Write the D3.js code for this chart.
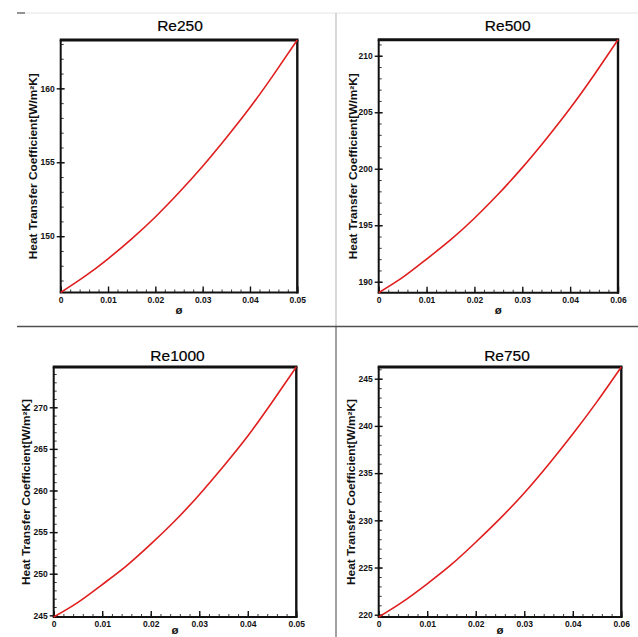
<!DOCTYPE html>
<html>
<head>
<meta charset="utf-8">
<script src="https://cdn.jsdelivr.net/npm/d3@7"></script>
<style>
  html, body { margin: 0; padding: 0; background: #fff; }
  svg { display: block; font-family: "Liberation Sans", Arial, sans-serif; }
</style>
</head>
<body>
<svg id="chart" width="638" height="637"></svg>
<script>
// Nanofluid volume fraction (x) and heat transfer coefficient for each Reynolds number
const phi = [0, 0.005, 0.01, 0.015, 0.02, 0.025, 0.03, 0.035, 0.04, 0.045, 0.05];
const h250  = [146.19, 147.26, 148.47, 149.82, 151.3, 152.95, 154.73, 156.66, 158.7, 160.93, 163.27];
const h500  = [189.03, 190.38, 192.0, 193.7, 195.62, 197.76, 200.1, 202.64, 205.35, 208.3, 211.42];
const h1000 = [244.8, 246.56, 248.7, 250.95, 253.55, 256.36, 259.5, 262.92, 266.55, 270.6, 274.84];
const h750  = [219.76, 221.39, 223.28, 225.33, 227.68, 230.18, 232.9, 235.92, 239.14, 242.57, 246.24];

const titles = ["Re250", "Re500", "Re1000", "Re750"];

// Tick values and labels
const xTicks = [0, 0.01, 0.02, 0.03, 0.04, 0.05];
const xLabels250  = ["0", "0.01", "0.02", "0.03", "0.04", "0.05"];
const xLabels500  = ["0", "0.01", "0.02", "0.03", "0.04", "0.06"];
const xLabels1000 = ["0", "0.01", "0.02", "0.03", "0.04", "0.05"];
const xLabels750  = ["0", "0.01", "0.02", "0.03", "0.04", "0.06"];
const yTicks250  = [150, 155, 160];
const yTicks500  = [190, 195, 200, 205, 210];
const yTicks1000 = [245, 250, 255, 260, 265, 270];
const yTicks750  = [220, 225, 230, 235, 240, 245];

const yLabel = "Heat Transfer Coefficient[W/m\u00B2K]";
const xLabel = "\u00F8";

// Panel geometry
const panels = [
  { title: titles[0], values: h250,  yTicks: yTicks250,  xLabels: xLabels250,
    left: 60.7, top: 40, right: 297.3, bottom: 292.5, titleX: 180, titleY: 31, ylabX: 33, xlabDy: 21 },
  { title: titles[1], values: h500,  yTicks: yTicks500,  xLabels: xLabels500,
    left: 378.7, top: 39.7, right: 618, bottom: 292.7, titleX: 507.7, titleY: 31, ylabX: 353, xlabDy: 21 },
  { title: titles[2], values: h1000, yTicks: yTicks1000, xLabels: xLabels1000,
    left: 53.7, top: 367, right: 296.3, bottom: 617, titleX: 177.5, titleY: 361, ylabX: 26, xlabDy: 17 },
  { title: titles[3], values: h750,  yTicks: yTicks750,  xLabels: xLabels750,
    left: 378.7, top: 367, right: 621.3, bottom: 617, titleX: 507, titleY: 361, ylabX: 351, xlabDy: 17 }
];

const svg = d3.select("#chart");

// Page separators
svg.append("line").attr("x1", 17).attr("x2", 638).attr("y1", 13).attr("y2", 13)
  .attr("stroke", "#e6e6e6").attr("stroke-width", 1.2);
svg.append("line").attr("x1", 17).attr("x2", 25).attr("y1", 13).attr("y2", 13)
  .attr("stroke", "#555").attr("stroke-width", 1.2);
svg.append("line").attr("x1", 336).attr("x2", 336).attr("y1", 13).attr("y2", 326)
  .attr("stroke", "#c4c4c4").attr("stroke-width", 1.3);
svg.append("line").attr("x1", 336).attr("x2", 336).attr("y1", 326).attr("y2", 637)
  .attr("stroke", "#8a8a8a").attr("stroke-width", 1.6);
svg.append("line").attr("x1", 17).attr("x2", 638).attr("y1", 326.5).attr("y2", 326.5)
  .attr("stroke", "#505050").attr("stroke-width", 1.4);

function minorRange(lo, hi, step) {
  const out = [];
  const n = Math.round((hi - lo) / step);
  for (let i = 0; i <= n; i++) out.push(+(lo + i * step).toFixed(6));
  return out;
}

panels.forEach(p => {
  const x = d3.scaleLinear().domain([0, 0.05]).range([p.left, p.right]);
  const y = d3.scaleLinear().domain(d3.extent(p.values)).range([p.bottom, p.top]);
  const g = svg.append("g");

  // Minor ticks (inside)
  const yMin = Math.ceil(y.domain()[0]), yMax = Math.floor(y.domain()[1]);
  g.append("g").attr("transform", `translate(${p.left},0)`)
    .call(d3.axisLeft(y).tickValues(minorRange(yMin, yMax, 1)).tickSize(-3).tickFormat(""))
    .call(s => s.select(".domain").remove())
    .call(s => s.selectAll("line").attr("stroke", "#222").attr("stroke-width", 0.9));
  g.append("g").attr("transform", `translate(0,${p.bottom})`)
    .call(d3.axisBottom(x).tickValues(minorRange(0, 0.05, 0.002)).tickSize(-3).tickFormat(""))
    .call(s => s.select(".domain").remove())
    .call(s => s.selectAll("line").attr("stroke", "#222").attr("stroke-width", 0.9));

  // Major y ticks: outside with labels, plus inside extension
  g.append("g").attr("transform", `translate(${p.left},0)`)
    .call(d3.axisLeft(y).tickValues(p.yTicks).tickSize(4).tickPadding(2))
    .call(s => s.select(".domain").remove())
    .call(s => s.selectAll("line").attr("stroke", "#111").attr("stroke-width", 1.4))
    .call(s => s.selectAll("text").attr("font-size", 8.5).attr("font-weight", "bold").attr("fill", "#111"));
  g.append("g").attr("transform", `translate(${p.left},0)`)
    .call(d3.axisLeft(y).tickValues(p.yTicks).tickSize(-4).tickFormat(""))
    .call(s => s.select(".domain").remove())
    .call(s => s.selectAll("line").attr("stroke", "#111").attr("stroke-width", 1.4));

  // Major x ticks (inside) with labels
  g.append("g").attr("transform", `translate(0,${p.bottom})`)
    .call(d3.axisBottom(x).tickValues(xTicks).tickSize(-6).tickPadding(4)
      .tickFormat((d, i) => p.xLabels[i]))
    .call(s => s.select(".domain").remove())
    .call(s => s.selectAll("line").attr("stroke", "#111").attr("stroke-width", 1.4))
    .call(s => s.selectAll("text").attr("font-size", 8.5).attr("font-weight", "bold").attr("fill", "#111"));

  // Frame
  const frame = [
    [p.left, p.bottom, p.left, p.top, 2],
    [p.left - 1, p.bottom, p.right + 1, p.bottom, 2],
    [p.left - 1, p.top, p.right + 1.2, p.top, 3],
    [p.right, p.top, p.right, p.bottom + 1, 2.4]
  ];
  g.selectAll(".frame").data(frame).join("line")
    .attr("x1", d => d[0]).attr("y1", d => d[1]).attr("x2", d => d[2]).attr("y2", d => d[3])
    .attr("stroke", "#111").attr("stroke-width", d => d[4]);

  // Curve
  const line = d3.line().x((d, i) => x(phi[i])).y(d => y(d)).curve(d3.curveNatural);
  g.append("path").datum(p.values).attr("d", line)
    .attr("fill", "none").attr("stroke", "#e01e1e").attr("stroke-width", 1.6);

  // Title
  g.append("text").attr("x", p.titleX).attr("y", p.titleY).attr("text-anchor", "middle")
    .attr("font-size", 15.5).attr("fill", "#000").attr("stroke", "#000").attr("stroke-width", 0.2)
    .text(p.title);

  // Axis titles
  const cy = (p.top + p.bottom) / 2;
  g.append("text").attr("transform", `translate(${p.ylabX + 3.5},${cy}) rotate(-90)`)
    .attr("text-anchor", "middle").attr("font-size", 10).attr("font-weight", "bold")
    .attr("textLength", 186).attr("lengthAdjust", "spacingAndGlyphs")
    .attr("fill", "#111").text(yLabel);
  g.append("text").attr("x", (p.left + p.right) / 2).attr("y", p.bottom + p.xlabDy)
    .attr("text-anchor", "middle").attr("font-size", 11.5).attr("font-weight", "bold")
    .attr("fill", "#111").text(xLabel);
});
</script>
</body>
</html>
